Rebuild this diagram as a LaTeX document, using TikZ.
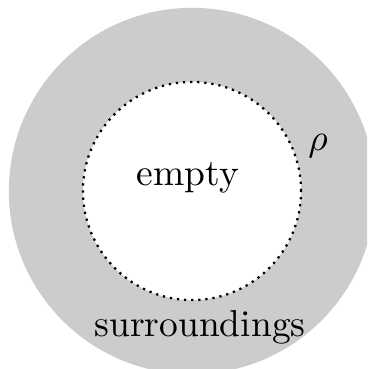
\documentclass[tikz,border=0pt]{standalone}
\begin{document}
\begin{tikzpicture}[x=0.009375cm,y=-0.009375cm,
  outerdisc/.style={fill=black!20,draw=none},
  innerdisc/.style={fill=white,draw=black,line width=0.6pt,dash pattern=on 0.6pt off 1.3pt},
  lbl/.style={inner sep=0pt,font=\normalsize}]
\useasboundingbox (0,0) rectangle (367,369);
\clip (0,0) rectangle (367,369);
\coordinate (c) at (192,191);
\fill[outerdisc] (c) circle (1.716cm);
\draw[innerdisc] (c) circle (1.022cm);
\node[lbl,anchor=base] (empty) at (188,186) {empty};
\node[lbl,anchor=base] (rho) at (318,151) {$\rho$};
\node[lbl,anchor=base] (sur) at (200,336) {surroundings};
\end{tikzpicture}
\end{document}
